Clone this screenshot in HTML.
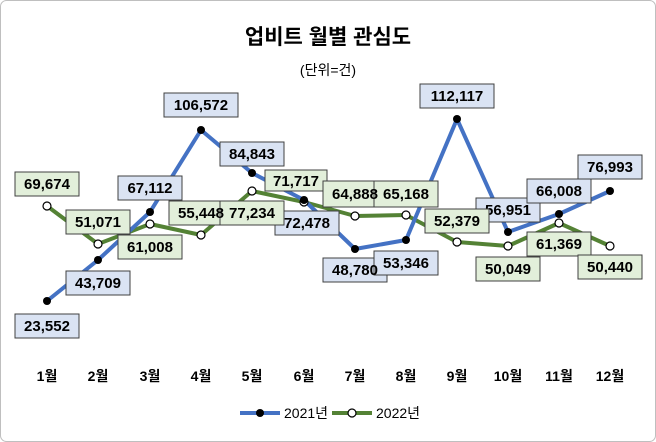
<!DOCTYPE html>
<html><head><meta charset="utf-8"><style>
html,body{margin:0;padding:0;background:#fff;}
svg{display:block;font-family:"Liberation Sans","Noto Sans CJK KR",sans-serif;}
</style></head><body>
<svg width="656" height="442" viewBox="0 0 656 442" xmlns="http://www.w3.org/2000/svg">
<rect x="0.5" y="0.5" width="655" height="441" rx="6" fill="#fff" stroke="#bfbfbf"/>
<text x="328" y="44" text-anchor="middle" font-size="21" font-weight="bold" fill="#000">업비트 월별 관심도</text>
<text x="328" y="75" text-anchor="middle" font-size="14" fill="#000">(단위=건)</text>
<g font-size="14" font-weight="bold" text-anchor="middle" fill="#000">
<text x="47" y="381">1월</text><text x="98" y="381">2월</text><text x="150" y="381">3월</text><text x="201" y="381">4월</text><text x="252" y="381">5월</text><text x="304" y="381">6월</text><text x="355" y="381">7월</text><text x="406" y="381">8월</text><text x="457" y="381">9월</text><text x="508" y="381">10월</text><text x="559" y="381">11월</text><text x="610" y="381">12월</text>
</g>
<polyline fill="none" stroke="#548235" stroke-width="4" stroke-linejoin="round" points="47,206 98,244 150,224 201,235 252,191 304,202 355,216 406,215 457,242 508,246 559,223 610,246"/>
<polyline fill="none" stroke="#4472c4" stroke-width="4" stroke-linejoin="round" points="47,301 98,260 150,212 201,130 252,173 304,200 355,249 406,240 457,119 508,232 559,214 610,191"/>
<g fill="#fff" stroke="#000" stroke-width="1.2">
<circle cx="47" cy="206" r="4"/><circle cx="98" cy="244" r="4"/><circle cx="150" cy="224" r="4"/><circle cx="201" cy="235" r="4"/><circle cx="252" cy="191" r="4"/><circle cx="304" cy="202" r="4"/><circle cx="355" cy="216" r="4"/><circle cx="406" cy="215" r="4"/><circle cx="457" cy="242" r="4"/><circle cx="508" cy="246" r="4"/><circle cx="559" cy="223" r="4"/><circle cx="610" cy="246" r="4"/>
</g>
<g fill="#000">
<circle cx="47" cy="301" r="4"/><circle cx="98" cy="260" r="4"/><circle cx="150" cy="212" r="4"/><circle cx="201" cy="130" r="4"/><circle cx="252" cy="173" r="4"/><circle cx="304" cy="200" r="4"/><circle cx="355" cy="249" r="4"/><circle cx="406" cy="240" r="4"/><circle cx="457" cy="119" r="4"/><circle cx="508" cy="232" r="4"/><circle cx="559" cy="214" r="4"/><circle cx="610" cy="191" r="4"/>
</g>
<g font-size="15" font-weight="bold" text-anchor="middle" fill="#000" stroke-width="1">
<g fill="#dae3f3" stroke="#404040">
<rect x="15" y="314" width="64" height="24"/><rect x="66" y="271" width="64" height="24"/><rect x="118" y="176" width="64" height="24"/><rect x="164" y="93" width="74" height="24"/><rect x="220" y="142" width="64" height="24"/><rect x="275" y="211" width="64" height="24"/><rect x="323" y="258" width="64" height="24"/><rect x="374" y="251" width="64" height="24"/><rect x="420" y="84" width="74" height="24"/><rect x="476" y="198" width="64" height="24"/><rect x="527" y="179" width="64" height="24"/><rect x="578" y="155" width="64" height="24"/>
</g>
<text x="47" y="331">23,552</text><text x="98" y="288">43,709</text><text x="150" y="193">67,112</text><text x="201" y="110">106,572</text><text x="252" y="159">84,843</text><text x="307" y="228">72,478</text><text x="355" y="275">48,780</text><text x="406" y="268">53,346</text><text x="457" y="101">112,117</text><text x="508" y="215">56,951</text><text x="559" y="196">66,008</text><text x="610" y="172">76,993</text>
<g fill="#e2efda" stroke="#404040">
<rect x="15" y="172" width="64" height="24"/><rect x="66" y="210" width="64" height="24"/><rect x="118" y="235" width="64" height="24"/><rect x="169" y="201" width="64" height="24"/><rect x="220" y="201" width="64" height="24"/><rect x="265" y="170" width="62" height="21"/><rect x="323" y="181" width="64" height="26"/><rect x="374" y="181" width="64" height="26"/><rect x="425" y="209" width="64" height="24"/><rect x="476" y="257" width="64" height="24"/><rect x="527" y="232" width="64" height="24"/><rect x="578" y="255" width="64" height="24"/>
</g>
<text x="47" y="189">69,674</text><text x="98" y="227">51,071</text><text x="150" y="252">61,008</text><text x="201" y="218">55,448</text><text x="252" y="218">77,234</text><text x="296" y="186">71,717</text><text x="355" y="199">64,888</text><text x="406" y="199">65,168</text><text x="457" y="226">52,379</text><text x="508" y="274">50,049</text><text x="559" y="249">61,369</text><text x="610" y="272">50,440</text>
</g>
<line x1="240" y1="413" x2="280" y2="413" stroke="#4472c4" stroke-width="4"/><circle cx="260" cy="413" r="4" fill="#000"/>
<text x="284" y="418" font-size="14" fill="#000">2021년</text>
<line x1="332" y1="413" x2="372" y2="413" stroke="#548235" stroke-width="4"/><circle cx="352" cy="413" r="4" fill="#fff" stroke="#000" stroke-width="1.2"/>
<text x="376" y="418" font-size="14" fill="#000">2022년</text>
</svg>
</body></html>
